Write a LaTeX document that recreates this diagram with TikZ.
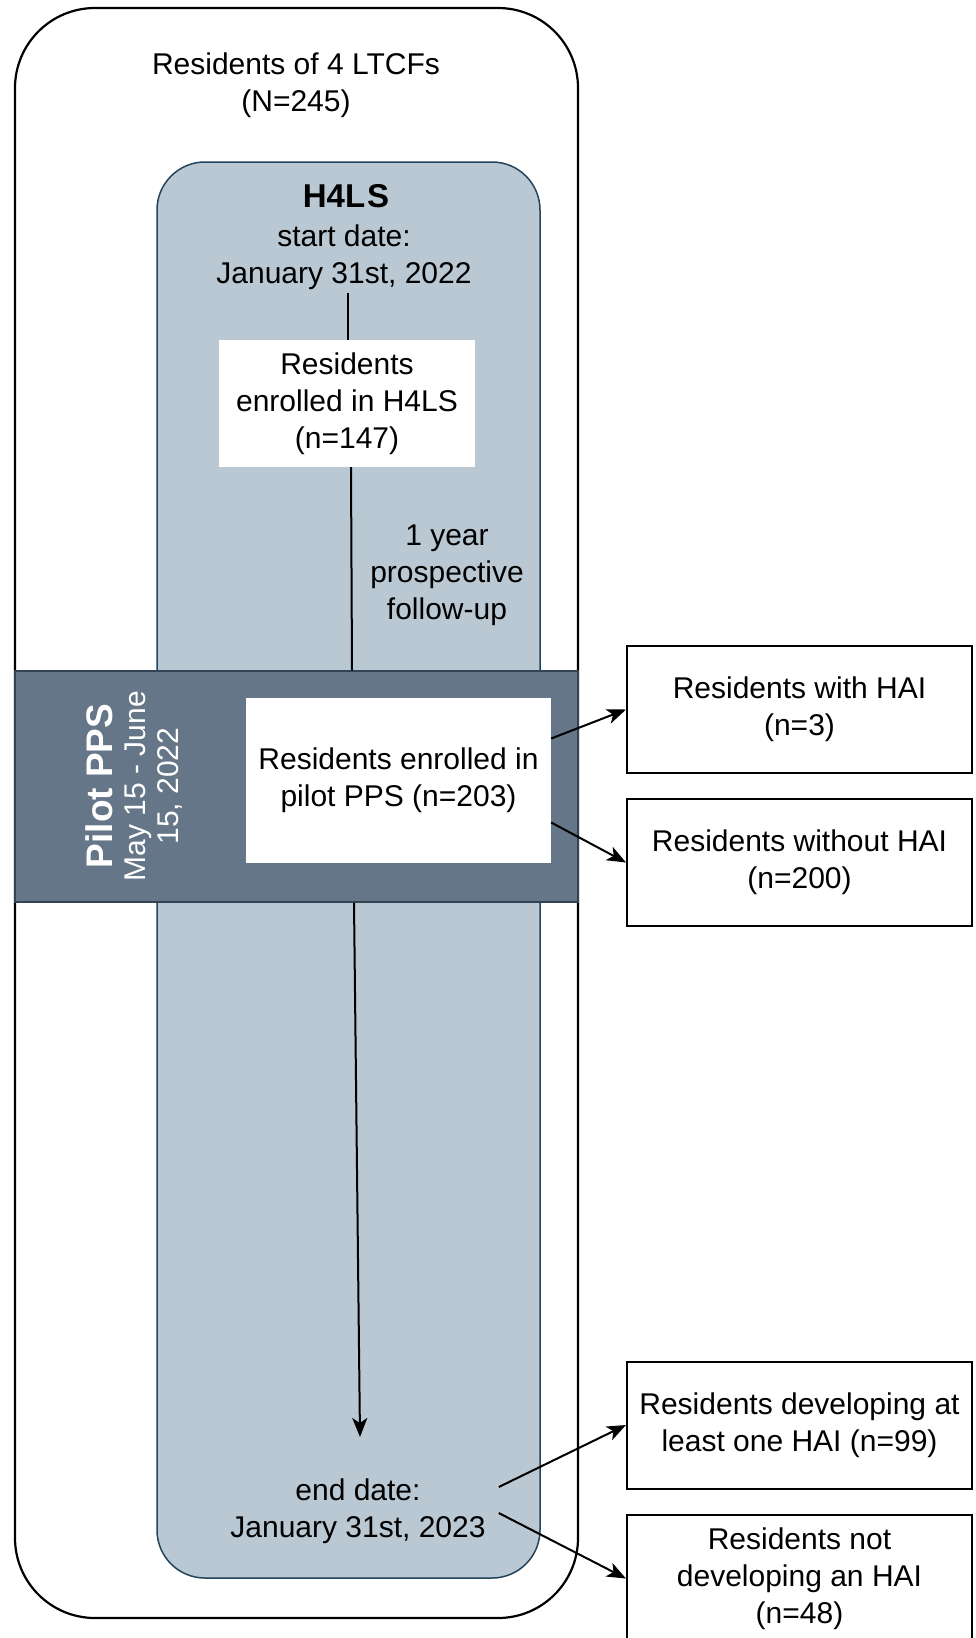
\documentclass[tikz,border=0pt]{standalone}
\usepackage{fontspec}
\setmainfont{Liberation Sans}
\usetikzlibrary{arrows.meta,calc}
\definecolor{hfill}{HTML}{BAC8D3}
\definecolor{hdraw}{HTML}{23445D}
\definecolor{pfill}{HTML}{647687}
\definecolor{pdraw}{HTML}{314354}
\begin{document}
\begin{tikzpicture}[x=1pt,y=-1pt,
  txt/.style={font=\fontsize{30}{37}\selectfont, align=center, inner sep=3pt},
  whitebox/.style={txt, fill=white, draw=none},
  outbox/.style={txt, draw=black, fill=white, line width=2pt, minimum width=345pt, minimum height=127pt},
  conn/.style={line width=2pt},
  arr/.style={conn, -{Stealth[length=19pt,width=15pt,inset=5pt]}}]
\useasboundingbox (0,0) rectangle (975,1638);
% containers
\node[draw=black, line width=2.2pt, fill=white, rounded corners=80pt, minimum width=563pt, minimum height=1610pt] (outer) at (296.5,813) {};
\node[draw=hdraw, line width=1.5pt, fill=hfill, rounded corners=48pt, minimum width=383pt, minimum height=1416pt] (h4ls) at (348.5,870) {};
\node[draw=pdraw, line width=1.5pt, fill=pfill, minimum width=563pt, minimum height=231pt] (pilot) at (296.5,786.5) {};
% texts
\node[txt] (title) at (296,85) {Residents of 4 LTCFs\\(N=245)};
\node[font=\fontsize{33}{40}\selectfont\bfseries] (h4lstitle) at (346,196) {H4L\kern2pt S};
\node[txt] (startdate) at (344,257) {start date:\\January 31st, 2022};
\node[whitebox, minimum width=256pt, minimum height=127pt] (enr147) at (347,403.5) {Residents\\enrolled in H4LS\\(n=147)};
\node[txt] (followup) at (447,575) {1 year\\prospective\\follow-up};
\node[rotate=90, text=white, align=center, font=\fontsize{30}{33}\selectfont] (pilotlbl) at (134,786) {{\fontsize{37}{40}\selectfont\bfseries Pilot PPS}\\May 15 - June\\15, 2022};
\node[whitebox, minimum width=305pt, minimum height=165pt] (enr203) at (398.5,780.5) {Residents enrolled in\\pilot PPS (n=203)};
\node[txt] (enddate) at (358,1511) {end date:\\January 31st, 2023};
\node[outbox] (hai3) at (799.5,709.5) {Residents with HAI\\(n=3)};
\node[outbox] (hai200) at (799.5,862.5) {Residents without HAI\\(n=200)};
\node[outbox] (hai99) at (799.5,1425) {Residents developing at\\least one HAI (n=99)};
\node[outbox] (hai48) at (799.5,1578.5) {Residents not\\developing an HAI\\(n=48)};
\coordinate (endtip) at (360,1437);
% connectors
\draw[conn] (startdate.south -| 348,0) -- (enr147.north -| 348,0);
\draw[conn] (enr147.south -| 351,0) -- (pilot.north -| 352,0);
\draw[arr] (pilot.south -| 354,0) -- (endtip);
\draw[arr] ([yshift=42pt]enr203.east) -- (hai3.west);
\draw[arr] ([yshift=-42pt]enr203.east) -- (hai200.west);
\draw[arr] ([xshift=10pt,yshift=24pt]enddate.east) -- (hai99.west);
\draw[arr] ([xshift=10pt,yshift=-2pt]enddate.east) -- (hai48.west);
\end{tikzpicture}
\end{document}
